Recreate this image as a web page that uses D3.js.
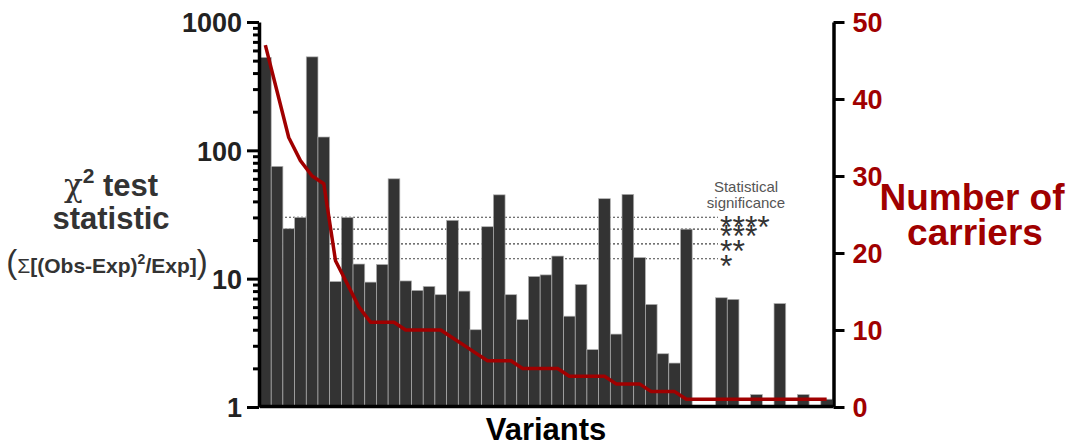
<!DOCTYPE html>
<html>
<head>
<meta charset="utf-8">
<script src="https://d3js.org/d3.v7.min.js"></script>
<style>
  body { margin: 0; background: #fff; }
  text { font-family: "Liberation Sans", Arial, sans-serif; }
</style>
</head>
<body>
<script>
// chi-square statistic per variant (left, log axis)
var chi2 = [530, 75, 24.5, 30, 535, 127, 9.5, 30, 13, 9.4,
            12.9, 60, 9.6, 8.1, 8.7, 7.5, 28.5, 8.0, 4.0, 25.4,
            45, 7.5, 4.8, 10.4, 10.7, 15, 5.1, 9.0, 2.8, 42,
            3.7, 45.4, 14.6, 6.3, 2.6, 2.2, 24.3, 1, 1, 7.1,
            6.9, 1, 1.25, 1, 6.4, 1, 1.25, 1, 1.15];
// number of carriers per variant (right axis)
var carriers = [47, 41, 35, 32, 30, 29, 19, 16, 13, 11,
                11, 11, 10, 10, 10, 10, 9, 8, 7, 6,
                6, 6, 5, 5, 5, 5, 4, 4, 4, 4,
                3, 3, 3, 2, 2, 2, 1, 1, 1, 1,
                1, 1, 1, 1, 1, 1, 1, 1, 1];
var variants = chi2.map(function(d, i){ return i; });
// significance thresholds
var sigValues = [30.1, 24.3, 18.7, 14.3];
var sigLabels = ["****", "***", "**", "*"];
var leftTicks = [1, 10, 100, 1000];
var rightTicks = [0, 10, 20, 30, 40, 50];

var w = 1070, h = 447;
var red = "#a00000", dark = "#333333";

var svg = d3.select("body").append("svg")
    .attr("width", w)
    .attr("height", h);

var x = d3.scaleBand().domain(variants).range([259.5, 832.5]).padding(0);
var yL = d3.scaleLog().domain([1, 1000]).range([407, 22]);
var yR = d3.scaleLinear().domain([0, 50]).range([407, 22]);

// dotted significance lines (behind bars)
svg.selectAll(".sig")
    .data(sigValues)
    .enter().append("line")
    .attr("x1", 269).attr("x2", 718)
    .attr("y1", function(d){ return yL(d); })
    .attr("y2", function(d){ return yL(d); })
    .style("stroke", "#444")
    .style("stroke-width", 1.2)
    .style("stroke-dasharray", "2,2");

// bars
svg.selectAll(".bar")
    .data(chi2)
    .enter().append("rect")
    .attr("x", function(d, i){ return x(i); })
    .attr("width", x.bandwidth())
    .attr("y", function(d){ return yL(d); })
    .attr("height", function(d){ return yL(1) - yL(d); })
    .style("fill", dark)
    .style("stroke", "#b0b0b0")
    .style("stroke-width", 0.7);

// carriers line
var line = d3.line()
    .x(function(d, i){ return x(i) + x.bandwidth() / 2; })
    .y(function(d){ return yR(d); });

svg.append("path")
    .datum(carriers)
    .attr("d", line)
    .style("fill", "none")
    .style("stroke", red)
    .style("stroke-width", 3.5)
    .style("stroke-linejoin", "round");

// left axis
var leftMinor = svg.append("g")
    .attr("transform", "translate(259,0)")
    .call(d3.axisLeft(yL)
        .tickValues(yL.ticks().filter(function(d){ return leftTicks.indexOf(d) < 0; }))
        .tickSize(6).tickFormat(""));
leftMinor.select(".domain").remove();

var leftAxis = svg.append("g")
    .attr("transform", "translate(259,0)")
    .call(d3.axisLeft(yL).tickValues(leftTicks).tickSize(12).tickSizeOuter(0)
        .tickFormat(d3.format("d")));
leftAxis.selectAll("text")
    .style("font-size", "27px").style("font-weight", "bold")
    .style("fill", "#222").attr("x", -17).attr("dy", "0.36em");

// right axis
var rightAxis = svg.append("g")
    .attr("transform", "translate(833.5,0)")
    .call(d3.axisRight(yR).tickValues(rightTicks).tickSize(11).tickSizeOuter(0));
rightAxis.selectAll("text")
    .style("font-size", "27px").style("font-weight", "bold")
    .style("fill", red).attr("x", 19).attr("dy", "0.36em");

// bottom axis
var bottomAxis = svg.append("g")
    .attr("transform", "translate(0,406)")
    .call(d3.axisBottom(x).tickValues([]).tickSizeOuter(0));

svg.selectAll(".domain").style("stroke", "#000").style("stroke-width", 3.5);
svg.selectAll(".tick line").style("stroke", "#000").style("stroke-width", 3);

// significance labels
svg.append("text")
    .attr("x", 746).attr("y", 192)
    .attr("text-anchor", "middle")
    .style("font-size", "15px").style("fill", "#555")
    .text("Statistical");
svg.append("text")
    .attr("x", 746).attr("y", 208)
    .attr("text-anchor", "middle")
    .style("font-size", "15px").style("fill", "#555")
    .text("significance");

svg.selectAll(".star")
    .data(sigValues)
    .enter().append("text")
    .attr("x", 720)
    .attr("y", function(d, i){ return yL(d) + (i == 0 ? 21 : 18); })
    .style("font-size", "32px").style("fill", dark)
    .text(function(d, i){ return sigLabels[i]; });

// left title
var t1 = svg.append("text")
    .attr("x", 111).attr("y", 196)
    .attr("text-anchor", "middle")
    .style("fill", dark).style("font-weight", "bold").style("font-size", "31px");
t1.append("tspan").style("font-family", "DejaVu Serif, serif").style("font-weight", "normal").text("χ");
t1.append("tspan").attr("dy", -13).style("font-size", "21px").text("2");
t1.append("tspan").attr("dy", 13).text(" test");

svg.append("text")
    .attr("x", 111).attr("y", 229)
    .attr("text-anchor", "middle")
    .style("fill", dark).style("font-weight", "bold").style("font-size", "31px")
    .text("statistic");

var t3 = svg.append("text")
    .attr("x", 107).attr("y", 273)
    .attr("text-anchor", "middle")
    .style("fill", dark).style("font-weight", "bold").style("font-size", "21px");
t3.append("tspan").style("font-size", "33px").style("font-weight", "normal").text("(");
t3.append("tspan").style("font-weight", "normal").text("Σ");
t3.append("tspan").text("[(Obs-Exp)");
t3.append("tspan").attr("dy", -9).style("font-size", "14px").text("2");
t3.append("tspan").attr("dy", 9).text("/Exp]");
t3.append("tspan").style("font-size", "33px").style("font-weight", "normal").text(")");

// right title
svg.append("text")
    .attr("x", 972).attr("y", 210)
    .attr("text-anchor", "middle")
    .style("fill", red).style("font-weight", "bold").style("font-size", "37px")
    .text("Number of");
svg.append("text")
    .attr("x", 975).attr("y", 245)
    .attr("text-anchor", "middle")
    .style("fill", red).style("font-weight", "bold").style("font-size", "37px")
    .text("carriers");

// x title
svg.append("text")
    .attr("x", 546).attr("y", 440)
    .attr("text-anchor", "middle")
    .style("fill", "#000").style("font-weight", "bold").style("font-size", "31px")
    .text("Variants");
</script>
</body>
</html>
